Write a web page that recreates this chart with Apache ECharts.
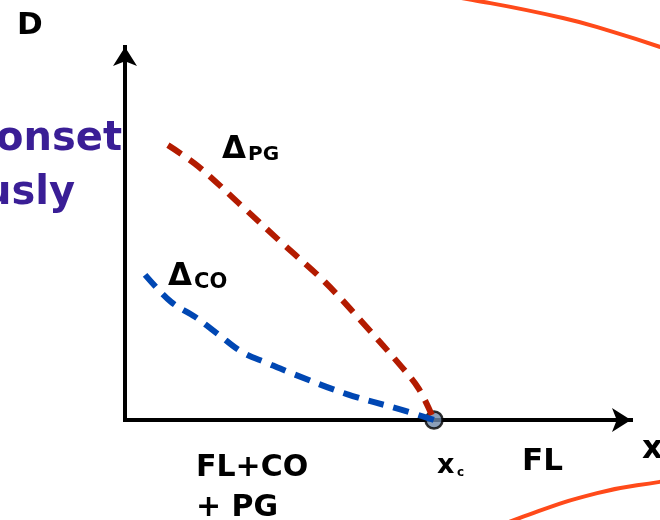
<!DOCTYPE html>
<html><head><meta charset="utf-8">
<script src="https://cdn.jsdelivr.net/npm/echarts@6/dist/echarts.min.js"></script>
<style>html,body{margin:0;padding:0;background:#fff}#c{width:660px;height:520px}</style>
</head><body><div id="c"></div>
<script>
// Schematic data (x in units of x_c, y in D units)
const pgCurve = [[0.139,0.733],[0.236,0.677],[0.375,0.573],[0.508,0.472],[0.647,0.368],[0.773,0.256],[0.896,0.141],[0.951,0.083],[1.0,0.0]];
const coCurve = [[0.065,0.387],[0.149,0.315],[0.227,0.275],[0.301,0.229],[0.379,0.181],[0.460,0.152],[0.544,0.123],[0.718,0.069],[0.896,0.027],[1.0,0.0]];
const criticalPoint = [[1.0,0.0]];
const arcTop = [[0.955,1.141],[1.126,1.12],[1.417,1.072],[1.579,1.035],[1.731,0.995],[1.828,0.965]];
const arcBottom = [[1.149,-0.307],[1.278,-0.261],[1.528,-0.195],[1.731,-0.165],[1.828,-0.155]];

const FONT = "'DejaVu Sans', sans-serif";
const chart = echarts.init(document.getElementById('c'), null, {renderer:'canvas'});
const axisCommon = {
  type:'value', min:0,
  splitLine:{show:false}, axisTick:{show:false}, axisLabel:{show:false},
  axisLine:{show:true, symbol:['none','arrow'], symbolSize:[18,19], lineStyle:{color:'#000', width:4, cap:'square'}}
};
const hiddenAxis = {type:'value', show:false, splitLine:{show:false}};
function txt(x,y,text,size,color,align,weight){
  return {type:'text', x:x, y:y, z:100, style:{text:text, fill:color||'#000', font:(weight||'bold')+' '+size+'px '+FONT, textAlign:align||'left', textVerticalAlign:'middle'}};
}
chart.setOption({
  animation:false,
  grid:[
    {left:125, top:47, width:506, height:373, containLabel:false},
    {left:0, top:0, width:660, height:520, containLabel:false}
  ],
  xAxis:[
    Object.assign({}, axisCommon, {max:1.6375, gridIndex:0}),
    Object.assign({}, hiddenAxis, {min:-0.4045, max:1.7314, gridIndex:1})
  ],
  yAxis:[
    Object.assign({}, axisCommon, {max:0.9947, gridIndex:0}),
    Object.assign({}, hiddenAxis, {min:-0.2667, max:1.12, gridIndex:1})
  ],
  series:[
    {type:'line', xAxisIndex:1, yAxisIndex:1, data:arcTop, smooth:true, symbol:'none', lineStyle:{color:'#ff4a1a', width:4}},
    {type:'line', xAxisIndex:1, yAxisIndex:1, data:arcBottom, smooth:true, symbol:'none', lineStyle:{color:'#ff4a1a', width:4}},
    {type:'scatter', data:criticalPoint, symbolSize:17, z:1, itemStyle:{color:'#6e87a8', borderColor:'#000', borderWidth:2.5}},
    {type:'line', z:3, data:pgCurve, smooth:0.35, symbol:'none', lineStyle:{color:'#b31b00', width:6, type:[16,10]}},
    {type:'line', z:3, data:coCurve, smooth:0.35, symbol:'none', lineStyle:{color:'#0047b3', width:6, type:[16,10]}}
  ],
  graphic:[
    txt(17,26,'D',31),
    txt(122,140,'onset',40,'#3a1e96','right'),
    txt(75,194,'usly',40,'#3a1e96','right'),
    txt(222,150,'Δ',31),
    txt(248,154.5,'PG',20),
    txt(168,277,'Δ',31),
    txt(194,283,'CO',21),
    txt(196,468.5,'FL+CO',30),
    txt(196,508.5,'+ PG',30),
    txt(437,466,'x',27),
    txt(457,473,'c',12),
    txt(522,462,'FL',31),
    txt(642,449.5,'x',32)
  ]
});
</script></body></html>
